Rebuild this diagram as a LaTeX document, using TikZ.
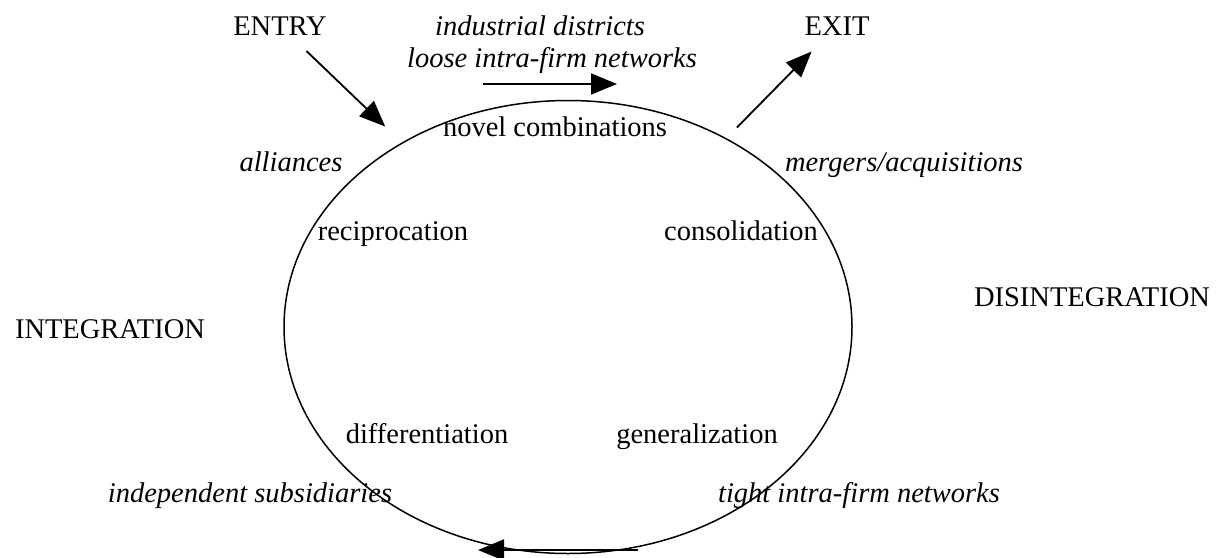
\documentclass[tikz,border=0pt]{standalone}
\usepackage{fontspec}
\setmainfont{Liberation Serif}
\usetikzlibrary{positioning,shapes.geometric,arrows.meta}

\begin{document}
\begin{tikzpicture}[x=1pt, y=-1pt,
		lbl/.style = {inner sep=2, anchor=base, font=\fontsize{28.5}{34}\selectfont},
		case/.style = {lbl, font=\fontsize{28.5}{34}\selectfont\itshape},
		flow/.style = {line width=1.8, -{Triangle[length=26pt, width=21pt]}}]
		\useasboundingbox (0,0) rectangle (1223,557);
		\node [draw, ellipse, line width=1.5, inner sep=0, minimum width=568, minimum height=453] (cycle) at (568,327) {};
		% outside the cycle
		\node [lbl] (entry) at (280,35) {ENTRY};
		\node [lbl] (exit) at (837,35) {EXIT};
		\node [lbl] (integ) at (110,338) {INTEGRATION};
		\node [lbl] (disinteg) at (1092,306) {DISINTEGRATION};
		\node [case] (districts) at (540,35) {industrial districts};
		\node [case] (loose) at (552,67) {loose intra-firm networks};
		\node [case] (alliances) at (291,171) {alliances};
		\node [case] (mergers) at (904,171) {mergers/acquisitions};
		\node [case] (subsid) at (250,502) {independent subsidiaries};
		\node [case] (tight) at (859,502) {tight intra-firm networks};
		% inside the cycle
		\node [lbl] (novel) at (555,136) {novel combinations};
		\node [lbl] (recip) at (393,240) {reciprocation};
		\node [lbl] (consol) at (741,240) {consolidation};
		\node [lbl] (differ) at (427,443) {differentiation};
		\node [lbl] (general) at (697,443) {generalization};
		\coordinate (topfrom) at (483,84);
		\coordinate (topto) at (617,84);
		\coordinate (botfrom) at (638,550);
		\coordinate (botto) at (478,550);
		\draw [flow, shorten <=20pt, shorten >=23pt] (entry) -- (cycle.132);
		\draw [flow, shorten <=15pt, shorten >=20pt] (cycle.50) -- (exit);
		\draw [flow] (topfrom) -- (topto);
		\draw [flow] (botfrom) -- (botto);
	\end{tikzpicture}
\end{document}
